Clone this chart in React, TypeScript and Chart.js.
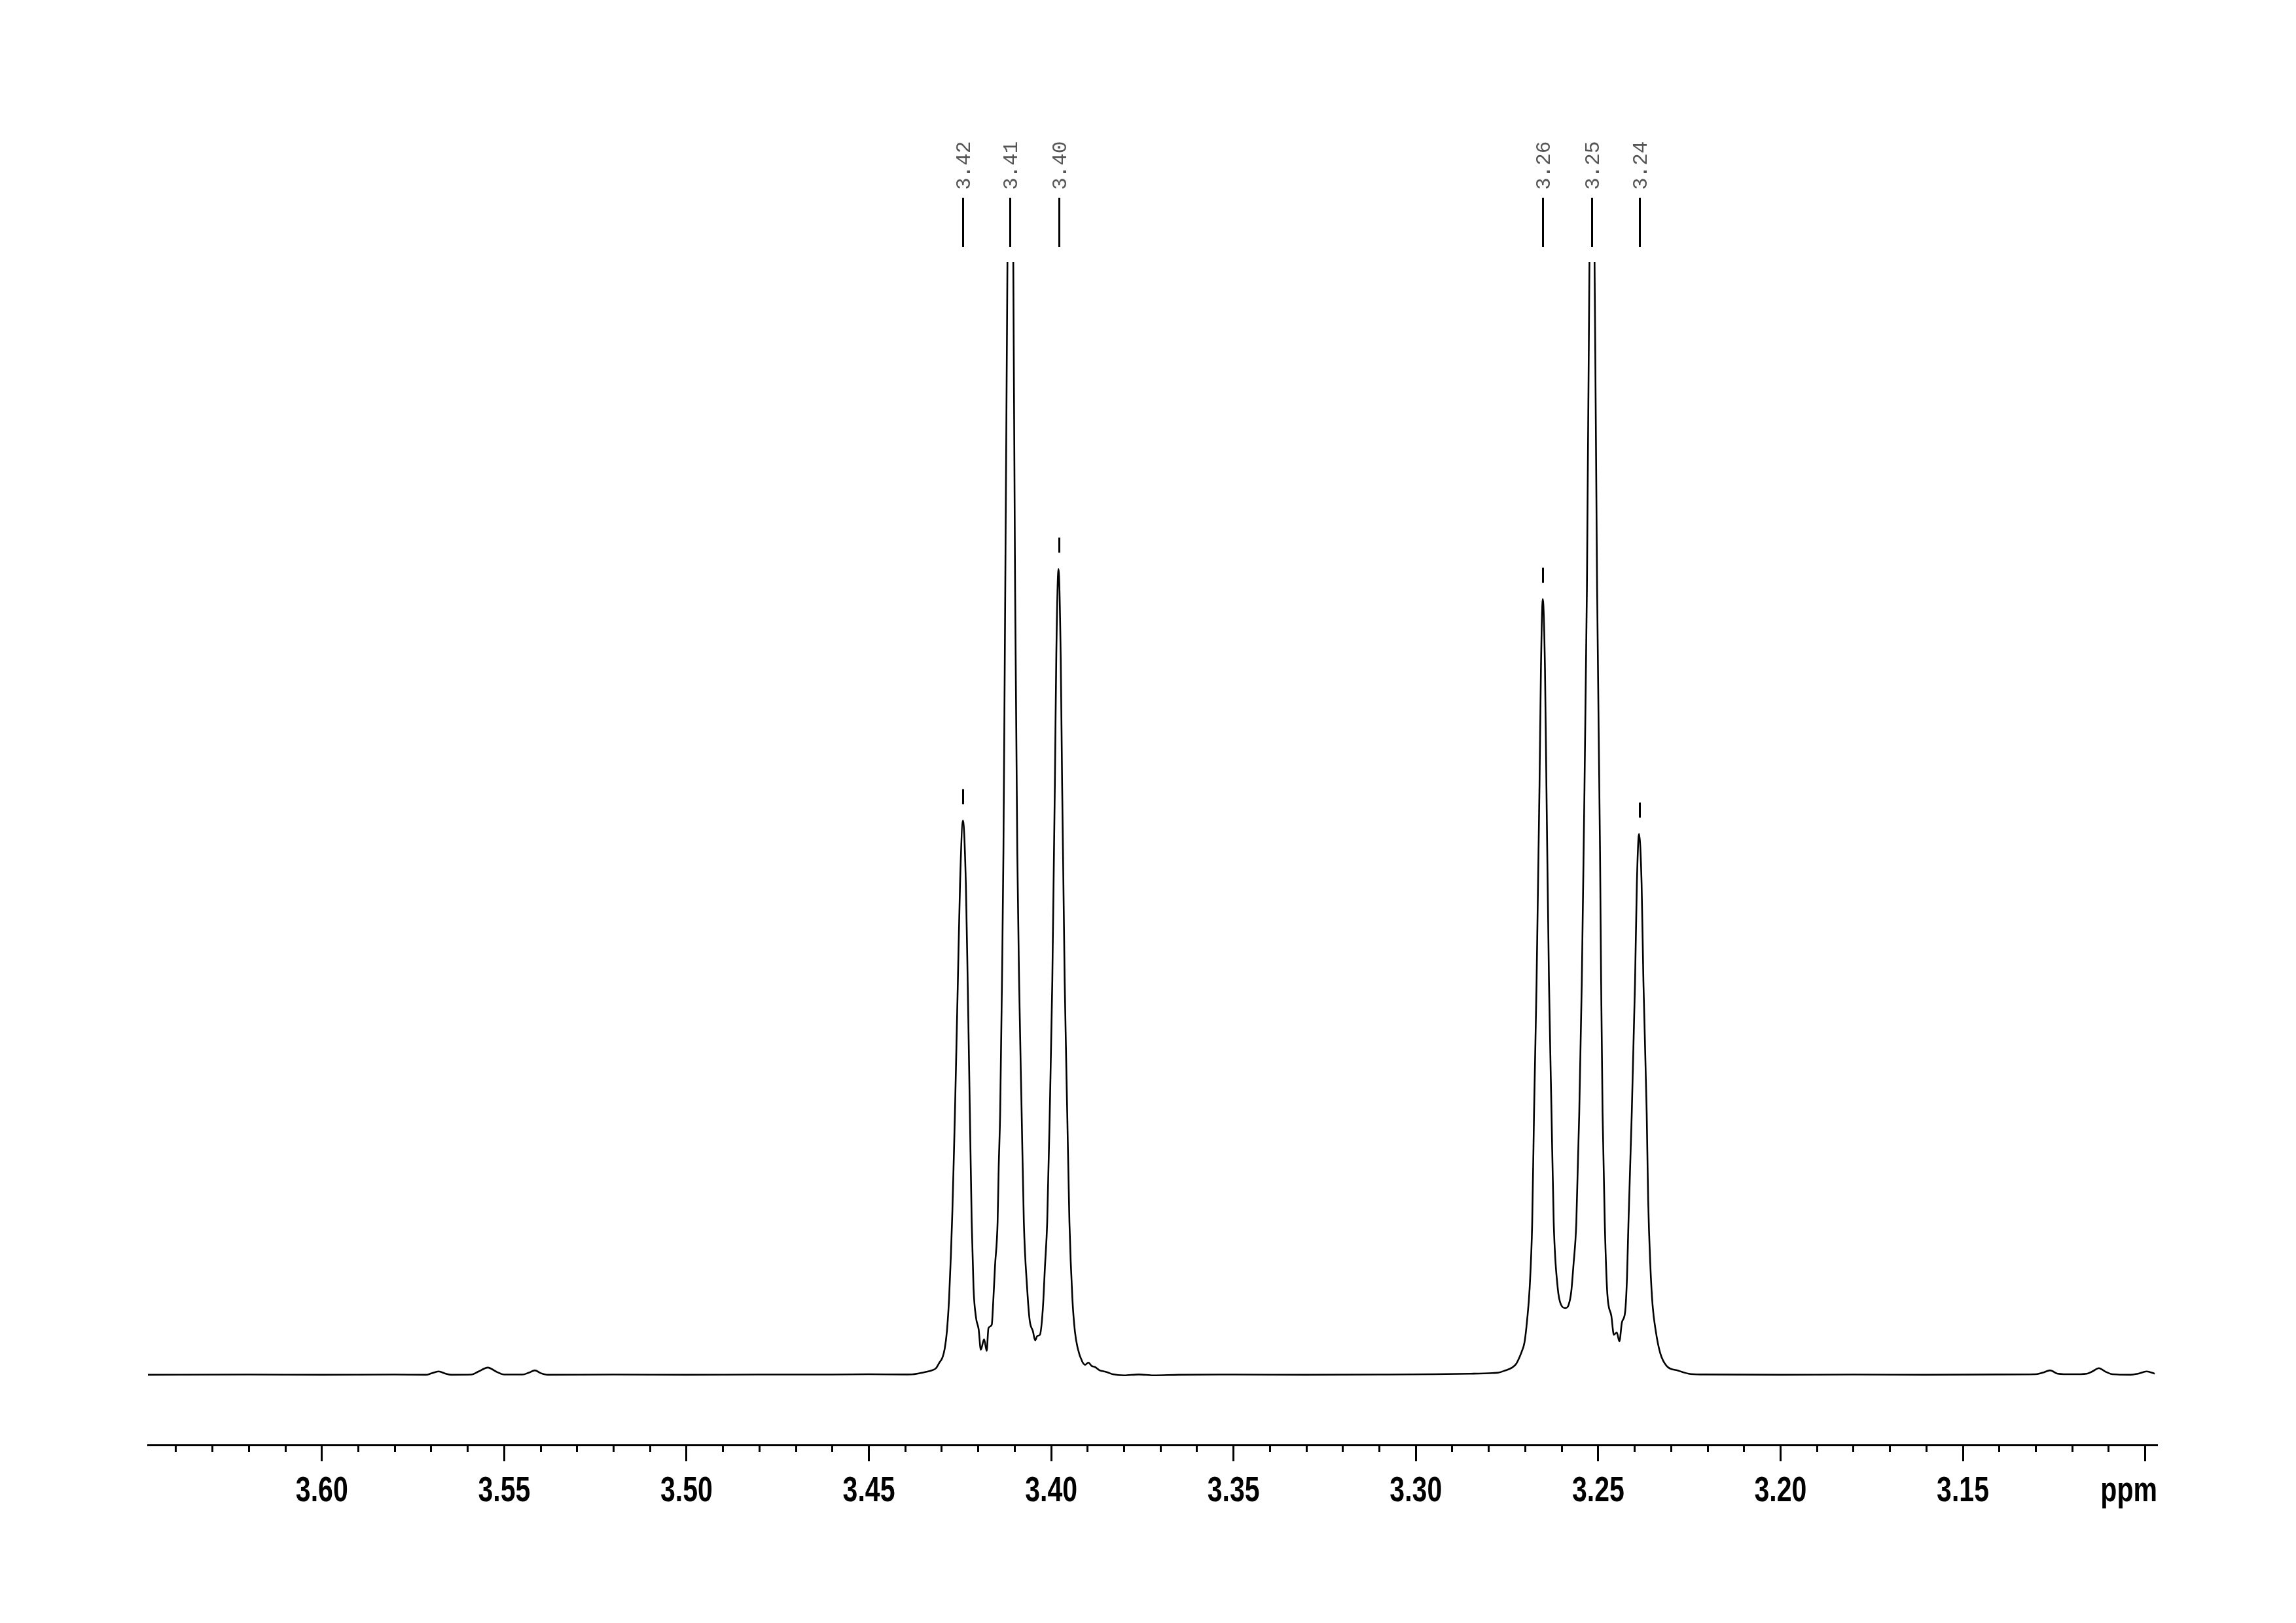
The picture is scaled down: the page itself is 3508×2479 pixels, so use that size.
import React, { useEffect, useRef } from 'react';
import { Chart, registerables } from 'chart.js';

Chart.register(...registerables);

// ---- Data ----
const ppmValues: number[] = [
  3.6477, 3.62, 3.6, 3.58, 3.5715, 3.57, 3.568, 3.566, 3.5645, 3.559, 3.557, 3.5545, 3.552, 3.55,
  3.545, 3.5432, 3.5416, 3.54, 3.538, 3.52, 3.5, 3.48, 3.46, 3.45, 3.4406, 3.4382, 3.4361, 3.4346,
  3.4328, 3.4316, 3.4307, 3.4298, 3.4292, 3.4286, 3.428, 3.4275, 3.4271, 3.4267, 3.4264, 3.4256,
  3.425, 3.4242, 3.4234, 3.4229, 3.4223, 3.4218, 3.4213, 3.4206, 3.4199, 3.4193, 3.4184, 3.4177,
  3.4172, 3.4163, 3.416, 3.4154, 3.4147, 3.4144, 3.414, 3.4135, 3.4131, 3.4126, 3.412, 3.4112,
  3.4104, 3.4099, 3.4093, 3.4088, 3.4081, 3.4075, 3.4066, 3.4059, 3.405, 3.4044, 3.4038, 3.4031,
  3.4023, 3.4017, 3.4011, 3.4004, 3.3997, 3.399, 3.3986, 3.398, 3.3974, 3.397, 3.3963, 3.3956,
  3.395, 3.3942, 3.3935, 3.3927, 3.3915, 3.3907, 3.3898, 3.3889, 3.388, 3.3867, 3.3855, 3.3844,
  3.3831, 3.38, 3.376, 3.372, 3.365, 3.35, 3.33, 3.31, 3.295, 3.285, 3.279, 3.2773, 3.2755, 3.2737,
  3.2725, 3.2716, 3.271, 3.2702, 3.2695, 3.2688, 3.2681, 3.2676, 3.2669, 3.2661, 3.2657, 3.2652,
  3.2646, 3.2642, 3.2635, 3.2628, 3.2622, 3.2611, 3.2602, 3.259, 3.2581, 3.2574, 3.2568, 3.256,
  3.2552, 3.2545, 3.254, 3.2531, 3.2524, 3.2517, 3.251, 3.2503, 3.2495, 3.2492, 3.2488, 3.2482,
  3.2475, 3.2464, 3.2457, 3.2449, 3.2442, 3.2435, 3.2426, 3.2421, 3.2417, 3.2408, 3.2399, 3.2394,
  3.2388, 3.2381, 3.2376, 3.2367, 3.2363, 3.2357, 3.2351, 3.2342, 3.233, 3.2312, 3.2282, 3.2252,
  3.2216, 3.2, 3.18, 3.16, 3.14, 3.13, 3.128, 3.1261, 3.124, 3.12, 3.116, 3.1145, 3.1127, 3.111,
  3.109, 3.104, 3.102, 3.0996, 3.0974,
];

const intensityValues: number[] = [
  0, 0.02, 0, 0.02, 0, 0.12, 0.3, 0.1, 0, 0.02, 0.3, 0.65, 0.25, 0.02,
  0.02, 0.2, 0.4, 0.15, 0, 0.02, 0, 0.02, 0.02, 0.05, 0.03, 0.04, 0.14, 0.24,
  0.39, 0.59, 1.08, 1.57, 2.35, 3.92, 6.86, 10.8, 14.7, 19.6, 23.5, 35.3,
  44.1, 49.8, 44.1, 35.3, 23.5, 13.7, 7.8, 5.1, 4.1, 2.25, 3.2, 2.15,
  4.2, 4.5, 5.9, 9.8, 13.7, 18.6, 23.5, 35.3, 47, 70.6, 100, 135,
  100, 70.6, 47, 35.3, 23.5, 13.7, 7.8, 4.9, 3.9, 3.1, 3.5, 3.6,
  5.9, 9.8, 13.7, 23.5, 35.3, 52.9, 64.7, 72.4, 64.7, 52.9, 35.3, 23.5,
  13.7, 6.9, 3.9, 2.35, 1.2, 0.9, 1.1, 0.8, 0.7, 0.4, 0.3, 0.2,
  0.05, -0.05, 0.03, -0.05, 0, 0.02, 0, 0.02, 0.05, 0.1, 0.16, 0.2, 0.39, 0.63,
  0.98, 1.57, 2.06, 2.94, 4.9, 7.8, 13.7, 23.5, 35.3, 52.9, 63.5, 69.7,
  63.5, 52.9, 35.3, 23.5, 13.7, 7.8, 6.3, 6.0, 6.3, 7.45, 9.8, 13.7,
  23.5, 35.3, 47, 70.6, 100, 135, 100, 70.6, 47, 35.3, 23.5, 13.7,
  7.3, 5.3, 3.6, 3.8, 3.0, 4.7, 5.7, 8.8, 13.7, 23.5, 35.3, 44.1,
  48.6, 44.1, 35.3, 23.5, 15.7, 9.8, 6.3, 3.9, 1.96, 0.78, 0.39, 0.1,
  0.03, 0, 0.02, 0, 0.03, 0.05, 0.2, 0.4, 0.1, 0.05, 0.1, 0.3, 0.6, 0.3,
  0.05, 0, 0.1, 0.3, 0.1,
];

const peakPositions: number[] = [3.4242, 3.4113, 3.3978, 3.2652, 3.2518, 3.2387];
const peakLabels: string[] = ['3.42', '3.41', '3.40', '3.26', '3.25', '3.24'];

const majorTickValues: number[] = [3.6, 3.55, 3.5, 3.45, 3.4, 3.35, 3.3, 3.25, 3.2, 3.15];
const unitTickValue = 3.1;
const unitLabel = 'ppm';

const axisMin = 3.0967;
const axisMax = 3.6477;
const intensityMin = -6.3;
const intensityMax = 100;

// ---- helpers ----
const isMajor = (v: number) => Math.abs(v * 20 - Math.round(v * 20)) < 1e-6;
const LABEL_FONT = 'bold 54px "Liberation Sans", Arial, Helvetica, sans-serif';
const LABEL_SQUEEZE = 0.76;

const peakLabelPlugin = {
  id: 'peakLabels',
  afterDatasetsDraw(chart: any) {
    const { ctx, chartArea } = chart;
    const xs = chart.scales.x;
    const ys = chart.scales.y;
    ctx.save();
    ctx.strokeStyle = '#000';
    ctx.lineWidth = 3;
    ctx.lineCap = 'butt';
    peakPositions.forEach((p, i) => {
      const px = Math.round(xs.getPixelForValue(p)) + 0.5;
      ctx.beginPath();
      ctx.moveTo(px, chartArea.top - 98);
      ctx.lineTo(px, chartArea.top - 23);
      ctx.stroke();
      ctx.save();
      ctx.translate(px + 10, chartArea.top - 110);
      ctx.rotate(-Math.PI / 2);
      ctx.font = '31px "Liberation Mono", "DejaVu Sans Mono", monospace';
      ctx.fillStyle = '#555';
      ctx.textAlign = 'left';
      ctx.textBaseline = 'alphabetic';
      ctx.fillText(peakLabels[i], 0, 0);
      ctx.restore();
      let maxI = -Infinity;
      ppmValues.forEach((v, k) => {
        if (Math.abs(v - p) < 0.0008 && intensityValues[k] > maxI) maxI = intensityValues[k];
      });
      if (maxI < intensityMax) {
        const py = ys.getPixelForValue(maxI);
        ctx.beginPath();
        ctx.moveTo(px, py - 48);
        ctx.lineTo(px, py - 25);
        ctx.stroke();
      }
    });
    ctx.restore();
  },
  afterDraw(chart: any) {
    // narrow bold tick labels, taken from the x scale's own ticks
    const { ctx, chartArea } = chart;
    const xs = chart.scales.x;
    const baseY = chartArea.bottom + 86;
    ctx.save();
    ctx.font = LABEL_FONT;
    ctx.fillStyle = '#000';
    ctx.textBaseline = 'alphabetic';
    xs.ticks.forEach((t: any) => {
      const label = t.label;
      if (!label) return;
      const px = xs.getPixelForValue(t.value);
      ctx.save();
      ctx.translate(px, baseY);
      ctx.scale(LABEL_SQUEEZE, 1);
      if (label === unitLabel) {
        ctx.textAlign = 'right';
        ctx.fillText(label, (chartArea.right - px) / LABEL_SQUEEZE, 0);
      } else {
        ctx.textAlign = 'center';
        ctx.fillText(label, 0, 0);
      }
      ctx.restore();
    });
    ctx.restore();
  },
};

export default function App() {
  const canvasRef = useRef<HTMLCanvasElement>(null);

  useEffect(() => {
    const canvas = canvasRef.current;
    if (!canvas) return;
    const chart = new Chart(canvas, {
      type: 'line',
      data: {
        datasets: [
          {
            data: ppmValues.map((v, i) => ({ x: v, y: intensityValues[i] })),
            borderColor: '#000',
            borderWidth: 2.6,
            pointRadius: 0,
            fill: false,
            cubicInterpolationMode: 'monotone',
          },
        ],
      },
      options: {
        responsive: false,
        animation: false,
        devicePixelRatio: 1,
        events: [],
        layout: { padding: { left: 226, right: 212, top: 400, bottom: 0 } },
        plugins: { legend: { display: false }, tooltip: { enabled: false } },
        scales: {
          x: {
            type: 'linear',
            position: 'bottom',
            reverse: true,
            min: axisMin,
            max: axisMax,
            afterFit: (scale: any) => {
              scale.height = 272;
            },
            border: { display: true, color: '#000', width: 3 },
            grid: {
              display: true,
              drawOnChartArea: false,
              drawTicks: true,
              tickLength: 25,
              tickWidth: 3,
              tickColor: '#000',
              tickBorderDash: (c: any) => (c.tick && isMajor(c.tick.value) ? [] : [9, 200]),
            },
            ticks: {
              stepSize: 0.01,
              autoSkip: false,
              includeBounds: false,
              maxRotation: 0,
              minRotation: 0,
              padding: 14,
              color: 'rgba(0,0,0,0)',
              font: { family: '"Liberation Sans", Arial, sans-serif', size: 54, weight: 'bold', lineHeight: 1.2 },
              callback: (value: any) => {
                const v = Number(value);
                if (Math.abs(v - unitTickValue) < 1e-6) return unitLabel;
                const found = majorTickValues.find((t) => Math.abs(t - v) < 1e-6);
                return found !== undefined ? found.toFixed(2) : '';
              },
            },
          },
          y: { display: false, min: intensityMin, max: intensityMax },
        },
      } as any,
      plugins: [peakLabelPlugin],
    });
    return () => chart.destroy();
  }, []);

  return (
    <div style={{ position: 'absolute', left: 0, top: 0, width: 3508, height: 2479, background: '#fff' }}>
      <canvas ref={canvasRef} width={3508} height={2479} style={{ display: 'block' }} />
    </div>
  );
}
